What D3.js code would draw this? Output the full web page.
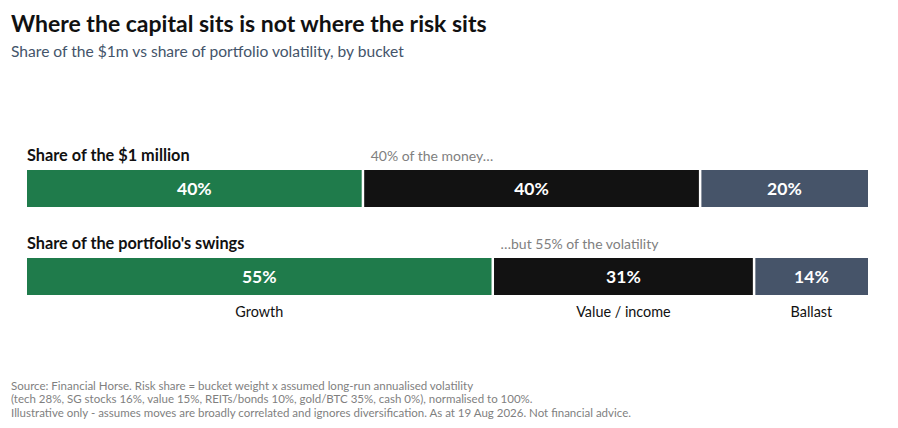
<!DOCTYPE html>
<html>
<head>
<meta charset="utf-8">
<script src="https://cdn.jsdelivr.net/npm/d3@7"></script>
<style>
  html, body { margin: 0; padding: 0; background: #fff; }
  svg { display: block; font-family: Lato, "Open Sans", sans-serif; }
</style>
</head>
<body>
<svg id="chart" width="898" height="428"></svg>
<script>
const buckets = ["Growth", "Value / income", "Ballast"];
const capitalShare = [40, 40, 20];
const riskShare = [55.4, 31.0, 13.6];
const rowTitles = ["Share of the $1 million", "Share of the portfolio's swings"];
const rowNotes = ["40% of the money\u2026", "\u2026but 55% of the volatility"];
const colors = ["#1f7b4b", "#121212", "#465469"];
const footnotes = [
  "Source: Financial Horse. Risk share = bucket weight x assumed long-run annualised volatility",
  "(tech 28%, SG stocks 16%, value 15%, REITs/bonds 10%, gold/BTC 35%, cash 0%), normalised to 100%.",
  "Illustrative only - assumes moves are broadly correlated and ignores diversification. As at 19 Aug 2026. Not financial advice."
];

const svg = d3.select("#chart");
const x = d3.scaleLinear().domain([0, 100]).range([27, 870]);
const rowsY = d3.scaleOrdinal().domain([0, 1]).range([170, 258]);
const barH = 37;
const gap = 2.5;

svg.append("text").attr("x", 11).attr("y", 32)
  .attr("font-size", 23).attr("font-weight", 700).attr("fill", "#111")
  .text("Where the capital sits is not where the risk sits");
svg.append("text").attr("x", 11).attr("y", 57)
  .attr("font-size", 15.6).attr("fill", "#44546a")
  .text("Share of the $1m vs share of portfolio volatility, by bucket");

function stack(vals) {
  let c = 0;
  return vals.map((v, i) => { const s = { i, v, x0: c, x1: c + v }; c += v; return s; });
}

[capitalShare, riskShare].forEach((vals, r) => {
  const y0 = rowsY(r);
  const segs = stack(vals);
  svg.append("text").attr("x", 27).attr("y", y0 - 9)
    .attr("font-size", 16.3).attr("font-weight", 700).attr("fill", "#111")
    .text(rowTitles[r]);
  svg.append("text").attr("x", x(segs[0].x1) + 6.5).attr("y", y0 - 9)
    .attr("font-size", 14).attr("fill", "#808080")
    .text(rowNotes[r]);
  const g = svg.append("g");
  g.selectAll("rect").data(segs).enter().append("rect")
    .attr("x", d => x(d.x0))
    .attr("y", y0)
    .attr("width", d => x(d.x1) - x(d.x0) - (d.i < segs.length - 1 ? gap : 2))
    .attr("height", barH)
    .attr("fill", d => colors[d.i]);
  g.selectAll("text").data(segs).enter().append("text")
    .attr("x", d => (x(d.x0) + x(d.x1) - gap) / 2)
    .attr("y", y0 + barH / 2 + 6)
    .attr("text-anchor", "middle")
    .attr("font-size", 17.5).attr("font-weight", 700).attr("fill", "#fff")
    .text(d => d3.format(".0f")(d.v) + "%");
  if (r === 1) {
    svg.append("g").selectAll("text").data(segs).enter().append("text")
      .attr("x", d => (x(d.x0) + x(d.x1) - gap) / 2)
      .attr("y", y0 + barH + 22)
      .attr("text-anchor", "middle")
      .attr("font-size", 14.4).attr("fill", "#111")
      .text(d => buckets[d.i]);
  }
});

svg.append("g").selectAll("text").data(footnotes).enter().append("text")
  .attr("x", 11).attr("y", (d, i) => 389.5 + i * 13.5)
  .attr("font-size", 11.5).attr("fill", "#7f7f7f")
  .text(d => d);
</script>
</body>
</html>
